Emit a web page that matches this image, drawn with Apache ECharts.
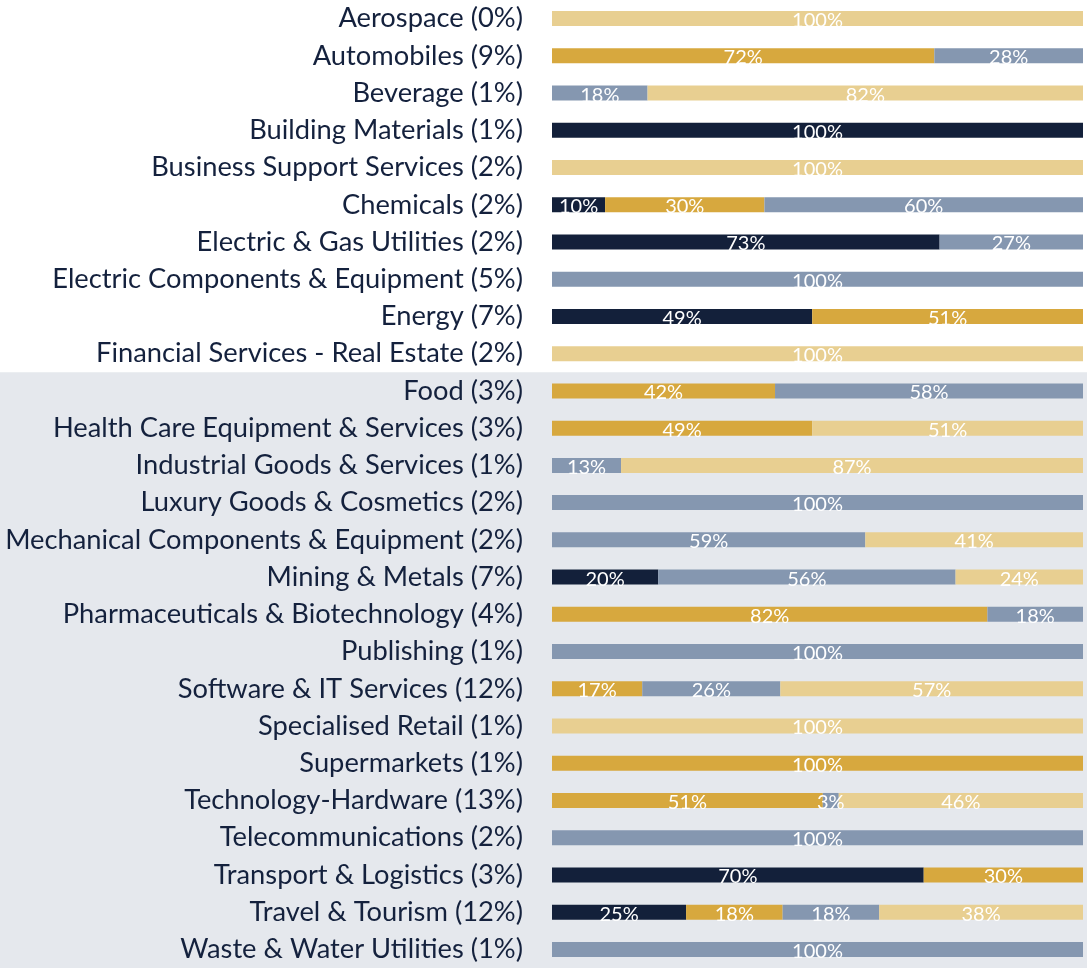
<!DOCTYPE html>
<html>
<head>
<meta charset="utf-8">
<script src="https://cdn.jsdelivr.net/npm/echarts@6/dist/echarts.min.js"></script>
<style>
  html, body { margin: 0; padding: 0; background: #ffffff; }
  #chart { width: 1087px; height: 968px; }
</style>
</head>
<body>
<div id="chart"></div>
<script>
// sector labels, top to bottom
const sectors = [
  'Aerospace (0%)', 'Automobiles (9%)', 'Beverage (1%)', 'Building Materials (1%)',
  'Business Support Services (2%)', 'Chemicals (2%)', 'Electric & Gas Utilities (2%)',
  'Electric Components & Equipment (5%)', 'Energy (7%)', 'Financial Services - Real Estate (2%)',
  'Food (3%)', 'Health Care Equipment & Services (3%)', 'Industrial Goods & Services (1%)',
  'Luxury Goods & Cosmetics (2%)', 'Mechanical Components & Equipment (2%)', 'Mining & Metals (7%)',
  'Pharmaceuticals & Biotechnology (4%)', 'Publishing (1%)', 'Software & IT Services (12%)',
  'Specialised Retail (1%)', 'Supermarkets (1%)', 'Technology-Hardware (13%)',
  'Telecommunications (2%)', 'Transport & Logistics (3%)', 'Travel & Tourism (12%)',
  'Waste & Water Utilities (1%)'
];

// shares per sector (%), one array per colour group
const navy  = [0, 0, 0, 100, 0, 10, 73, 0, 49, 0, 0, 0, 0, 0, 0, 20, 0, 0, 0, 0, 0, 0, 0, 70, 25, 0];
const gold  = [0, 72, 0, 0, 0, 30, 0, 0, 51, 0, 42, 49, 0, 0, 0, 0, 82, 0, 17, 0, 100, 51, 0, 30, 18, 0];
const slate = [0, 28, 18, 0, 0, 60, 27, 100, 0, 0, 58, 0, 13, 100, 59, 56, 18, 100, 26, 0, 0, 3, 100, 0, 18, 100];
const tan   = [100, 0, 82, 0, 100, 0, 0, 0, 0, 100, 0, 51, 87, 0, 41, 24, 0, 0, 57, 100, 0, 46, 0, 0, 38, 0];

const groups = [
  { name: 'navy', values: navy, color: '#13203a' },
  { name: 'gold', values: gold, color: '#d7a83e' },
  { name: 'slate', values: slate, color: '#8597b0' },
  { name: 'tan', values: tan, color: '#e8cf91' }
];

// rows that round to 99 are stretched to the full width, labels keep the printed value
const totals = sectors.map((_, i) => groups.reduce((s, g) => s + g.values[i], 0));

const chart = echarts.init(document.getElementById('chart'), null, { renderer: 'canvas' });

const option = {
  animation: false,
  backgroundColor: '#ffffff',
  grid: { left: 552, right: 4, top: -0.5, height: 972 },
  xAxis: {
    type: 'value',
    min: 0,
    max: 100,
    show: false
  },
  yAxis: {
    type: 'category',
    data: sectors,
    inverse: true,
    axisLine: { show: false },
    axisTick: { show: false },
    splitLine: { show: false },
    axisLabel: {
      margin: 29,
      color: '#14213d',
      fontFamily: 'Lato',
      fontSize: 27.3
    }
  },
  series: groups.map((g) => ({
    name: g.name,
    type: 'bar',
    stack: 'share',
    barWidth: 15,
    itemStyle: { color: g.color },
    data: g.values.map((v, i) => (v ? { value: (v / totals[i]) * 100, raw: v } : null)),
    label: {
      show: true,
      position: 'inside',
      color: '#ffffff',
      fontFamily: 'Lato',
      fontSize: 20,
      offset: [0, 2],
      formatter: (p) => (p.data && p.data.raw ? p.data.raw + '%' : '')
    }
  }))
};

chart.setOption(option);

// grey panel behind the lower block of sectors, starting at the Food row band
const bandTop = chart.convertToPixel({ yAxisIndex: 0 }, sectors[10]);
const bandPrev = chart.convertToPixel({ yAxisIndex: 0 }, sectors[9]);
chart.setOption({
  graphic: [{
    type: 'rect',
    z: -10,
    silent: true,
    shape: { x: 0, y: (bandTop + bandPrev) / 2, width: 1087, height: 968 },
    style: { fill: '#e5e8ed' }
  }]
});
</script>
</body>
</html>
